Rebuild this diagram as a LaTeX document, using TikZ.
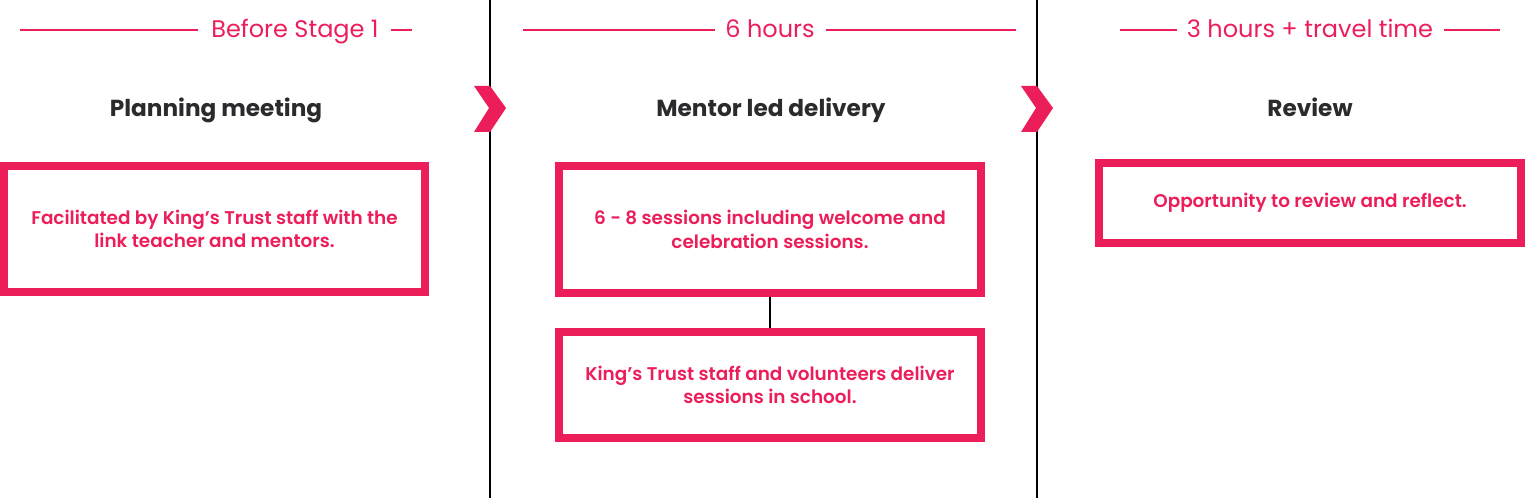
\documentclass[tikz,border=0pt]{standalone}
\usepackage{fontspec}
\setmainfont{Poppins}
\newfontfamily\semib{Poppins SemiBold}
\definecolor{kpink}{RGB}{236,30,90}
\definecolor{kdark}{RGB}{43,43,46}
\begin{document}
\begin{tikzpicture}[x=0.75pt,y=-0.75pt,
  hdr/.style={text=kpink,font=\fontsize{18}{20}\selectfont,inner sep=0pt,anchor=base},
  hline/.style={draw=kpink,line width=1.5pt},
  stagetitle/.style={text=kdark,font=\bfseries\fontsize{17.4}{20}\selectfont,inner sep=0pt,anchor=base},
  pbox/.style={draw=kpink,line width=6pt,fill=white,align=center,text=kpink,
    font=\semib\fontsize{13.8}{17.6}\selectfont,inner sep=0pt},
  divider/.style={draw=black,line width=1.5pt},
  chev/.style={fill=kpink,draw=none}]
\useasboundingbox (0,0) rectangle (1525,498);
% dividers
\coordinate (d1t) at (490,0); \coordinate (d1b) at (490,498);
\coordinate (d2t) at (1037,0); \coordinate (d2b) at (1037,498);
\draw[divider] (d1t) -- (d1b);
\draw[divider] (d2t) -- (d2b);
% chevrons
\fill[chev] (474,86) -- (490,86) -- (506,108) -- (490,132) -- (474,132) -- (489,108) -- cycle;
\fill[chev] (1021,86) -- (1037,86) -- (1053,108) -- (1037,132) -- (1021,132) -- (1036,108) -- cycle;
% headers
\node[hdr] (h1) at (295,38) {Before Stage 1};
\coordinate (h1a) at (20,30); \coordinate (h1b) at (198,30);
\coordinate (h1c) at (391,30); \coordinate (h1d) at (412,30);
\draw[hline] (h1a) -- (h1b);
\draw[hline] (h1c) -- (h1d);
\node[hdr] (h2) at (770,38) {6 hours};
\coordinate (h2a) at (523,30); \coordinate (h2b) at (715,30);
\coordinate (h2c) at (826,30); \coordinate (h2d) at (1016,30);
\draw[hline] (h2a) -- (h2b);
\draw[hline] (h2c) -- (h2d);
\node[hdr] (h3) at (1310,38) {3 hours + travel time};
\coordinate (h3a) at (1120,30); \coordinate (h3b) at (1177,30);
\coordinate (h3c) at (1444,30); \coordinate (h3d) at (1500,30);
\draw[hline] (h3a) -- (h3b);
\draw[hline] (h3c) -- (h3d);
% titles
\node[stagetitle] (t1) at (216,117) {Planning meeting};
\node[stagetitle] (t2) at (771,117) {Mentor led delivery};
\node[stagetitle] (t3) at (1310,117) {Review};
% boxes
\node[pbox,minimum width=315.75pt,minimum height=94.5pt] (b1) at (214.5,229)
  {Facilitated by King’s Trust staff with the\\link teacher and mentors.};
\node[pbox,minimum width=316.5pt,minimum height=95.25pt] (b2) at (770,229.5)
  {6 - 8 sessions including welcome and\\celebration sessions.};
\node[pbox,minimum width=316.5pt,minimum height=79.5pt] (b3) at (770,385)
  {King’s Trust staff and volunteers deliver\\sessions in school.};
\node[pbox,minimum width=316.5pt,minimum height=60pt] (b4) at (1310,203)
  {Opportunity to review and reflect.};
\draw[black,line width=1.2pt] (b2.south) -- (b3.north);
\end{tikzpicture}
\end{document}
